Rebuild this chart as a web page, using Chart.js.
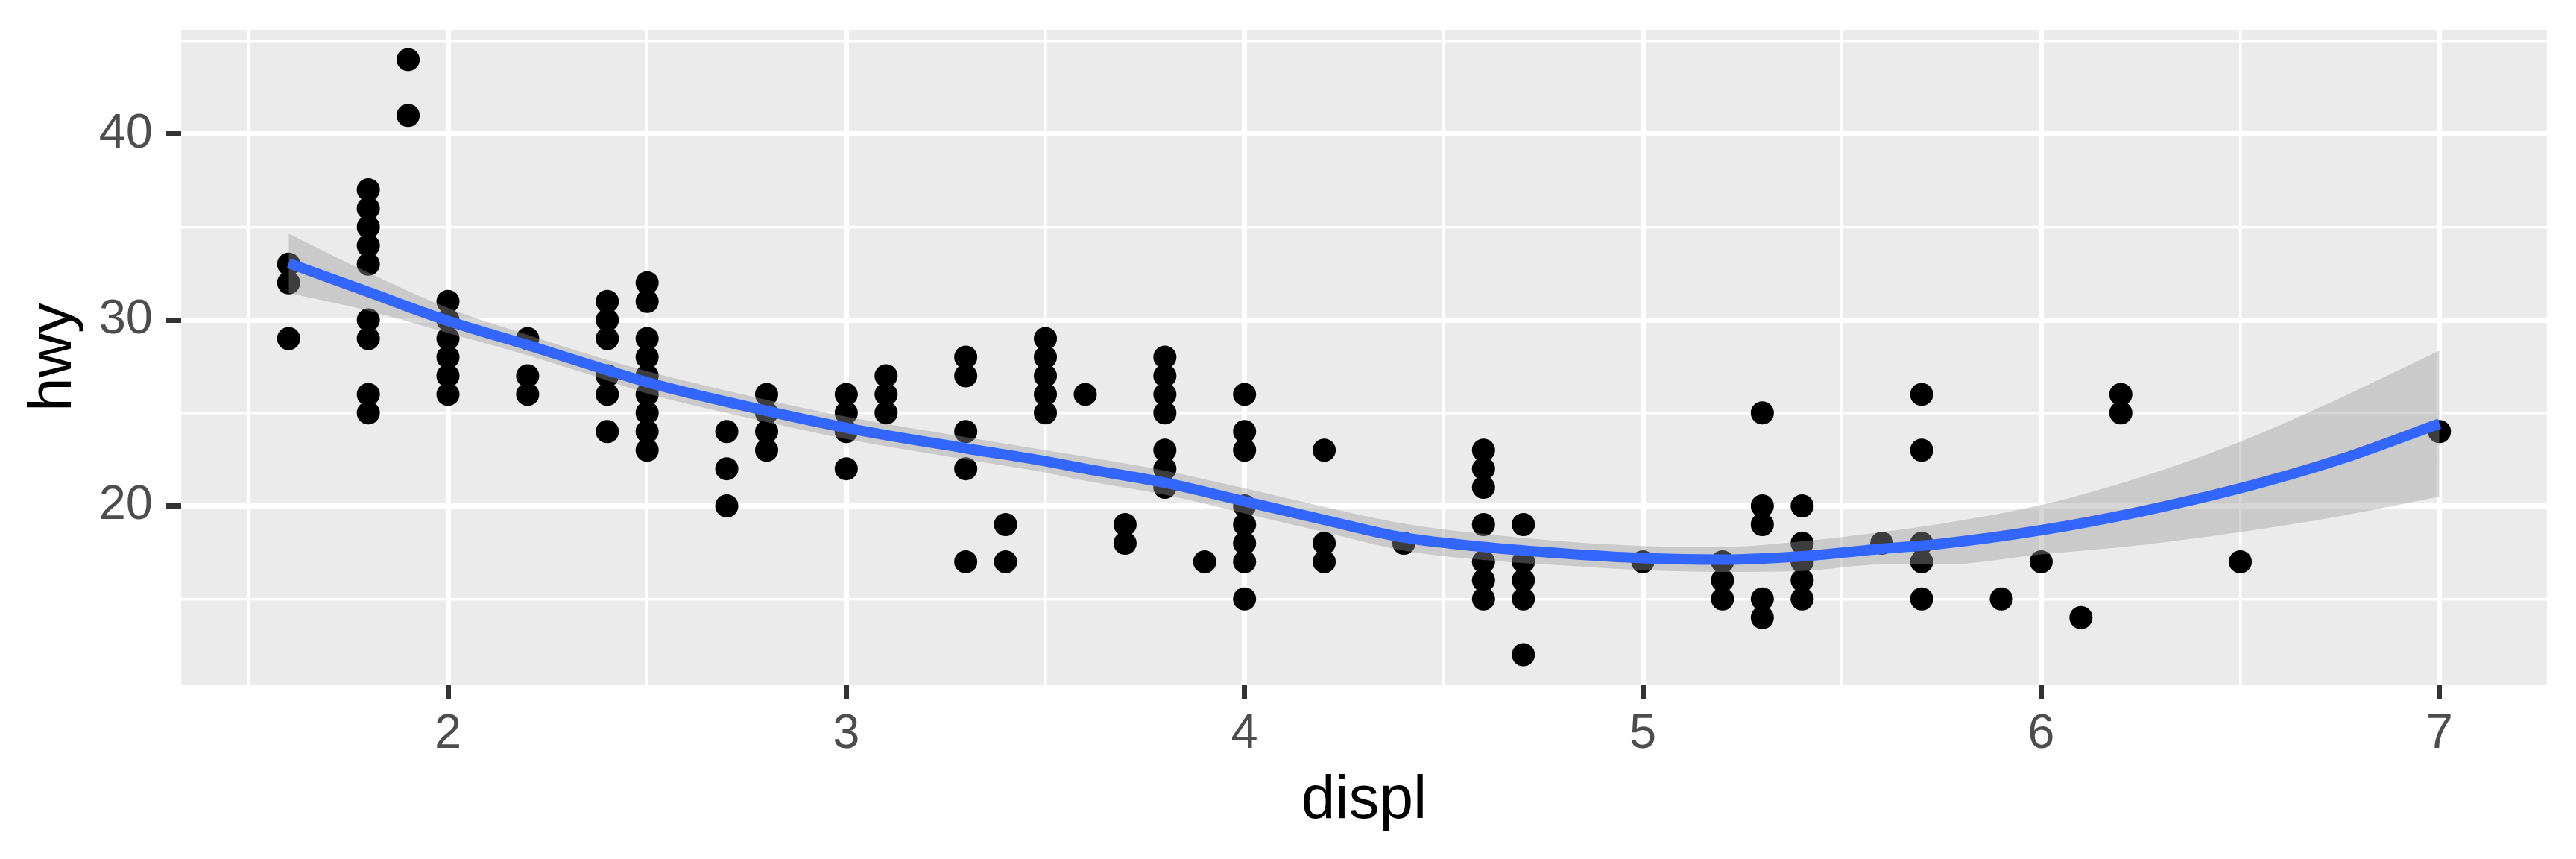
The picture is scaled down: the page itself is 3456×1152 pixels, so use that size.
<!DOCTYPE html>
<html>
<head>
<meta charset="utf-8">
<script src="https://cdn.jsdelivr.net/npm/chart.js@4"></script>
<style>
  body { margin: 0; background: #ffffff; }
  canvas { display: block; }
</style>
</head>
<body>
<canvas id="mpgChart" width="3456" height="1152"></canvas>
<script>
// Points: engine displacement vs highway mpg (one entry per visible dot)
const pointDispl = [
    1.6, 1.6, 1.6,
    1.8, 1.8, 1.8, 1.8, 1.8, 1.8, 1.8, 1.8, 1.8,
    1.9, 1.9,
    2.0, 2.0, 2.0, 2.0, 2.0, 2.0,
    2.2, 2.2, 2.2,
    2.4, 2.4, 2.4, 2.4, 2.4, 2.4,
    2.5, 2.5, 2.5, 2.5, 2.5, 2.5, 2.5, 2.5, 2.5,
    2.7, 2.7, 2.7,
    2.8, 2.8, 2.8, 2.8,
    3.0, 3.0, 3.0, 3.0,
    3.1, 3.1, 3.1,
    3.3, 3.3, 3.3, 3.3, 3.3,
    3.4, 3.4,
    3.5, 3.5, 3.5, 3.5, 3.5,
    3.6,
    3.7, 3.7,
    3.8, 3.8, 3.8, 3.8, 3.8, 3.8, 3.8,
    3.9,
    4.0, 4.0, 4.0, 4.0, 4.0, 4.0, 4.0, 4.0,
    4.2, 4.2, 4.2,
    4.4,
    4.6, 4.6, 4.6, 4.6, 4.6, 4.6, 4.6,
    4.7, 4.7, 4.7, 4.7, 4.7,
    5.0,
    5.2, 5.2, 5.2,
    5.3, 5.3, 5.3, 5.3, 5.3,
    5.4, 5.4, 5.4, 5.4, 5.4,
    5.6,
    5.7, 5.7, 5.7, 5.7, 5.7,
    5.9,
    6.0,
    6.1,
    6.2, 6.2,
    6.5,
    7.0
]
const pointHwy = [
    33, 32, 29,
    37, 36, 35, 34, 33, 30, 29, 26, 25,
    44, 41,
    31, 30, 29, 28, 27, 26,
    29, 27, 26,
    31, 30, 29, 27, 26, 24,
    32, 31, 29, 28, 27, 26, 25, 24, 23,
    24, 22, 20,
    26, 25, 24, 23,
    26, 25, 24, 22,
    27, 26, 25,
    28, 27, 24, 22, 17,
    19, 17,
    29, 28, 27, 26, 25,
    26,
    19, 18,
    28, 27, 26, 25, 23, 22, 21,
    17,
    26, 24, 23, 20, 19, 18, 17, 15,
    23, 18, 17,
    18,
    23, 22, 21, 19, 17, 16, 15,
    19, 17, 16, 15, 12,
    17,
    17, 16, 15,
    25, 20, 19, 15, 14,
    20, 18, 17, 16, 15,
    18,
    26, 23, 18, 17, 15,
    15,
    17,
    14,
    26, 25,
    17,
    24
]

// Loess smooth and its confidence band
const smoothX     = [1.6, 1.8, 2.0, 2.2, 2.4, 2.5, 2.7, 3.0, 3.3, 3.5, 3.6, 3.8, 4.0, 4.2, 4.4, 4.6, 4.8, 5.0, 5.2, 5.4, 5.6, 5.75, 6.0, 6.25, 6.5, 6.75, 7.0]
const smoothHwy   = [33.05, 31.5, 29.95, 28.65, 27.3, 26.65, 25.6, 24.2, 23.1, 22.4, 22.0, 21.25, 20.25, 19.25, 18.3, 17.8, 17.45, 17.2, 17.12, 17.3, 17.7, 17.97, 18.7, 19.7, 20.95, 22.5, 24.43]
const smoothUpper = [34.65, 32.55, 30.65, 29.2, 27.85, 27.25, 26.2, 24.8, 23.7, 23.0, 22.65, 21.9, 20.95, 19.95, 19.05, 18.5, 18.1, 17.85, 17.8, 18.1, 18.6, 19.05, 20.05, 21.55, 23.45, 25.8, 28.35]
const smoothLower = [31.45, 30.5, 29.3, 28.1, 26.75, 26.05, 25.0, 23.6, 22.5, 21.8, 21.35, 20.6, 19.6, 18.6, 17.6, 17.1, 16.8, 16.55, 16.45, 16.5, 16.85, 16.85, 17.4, 17.9, 18.6, 19.45, 20.5]

// Axis breaks (major ones get labels and tick marks)
const xBreaks = [1.5, 2, 2.5, 3, 3.5, 4, 4.5, 5, 5.5, 6, 6.5, 7]
const xMajor  = [2, 3, 4, 5, 6, 7]
const yBreaks = [15, 20, 25, 30, 35, 40, 45]
const yMajor  = [20, 30, 40]

const toXY = (xs, ys) => xs.map((x, i) => ({x: x, y: ys[i]}))

// grey panel behind the grid, like theme_gray
const panelBackground = {
    id: "panelBackground",
    beforeDraw(chart) {
        const {ctx, chartArea: a} = chart
        ctx.save()
        ctx.fillStyle = "#EBEBEB"
        ctx.fillRect(a.left, a.top, a.right - a.left, a.bottom - a.top)
        ctx.restore()
    }
}

const gridFor = major => ({
    color: "#FFFFFF",
    lineWidth: c => major.includes(c.tick.value) ? 7 : 3.5,
    tickColor: c => major.includes(c.tick.value) ? "#333333" : "rgba(0,0,0,0)",
    tickWidth: 7,
    tickLength: 20,
    drawTicks: true
})

// pin the axis boxes so the panel sits where it does in the original
const fixBox = (w, h) => s => {
    if (w) s.width = w
    if (h) s.height = h
    s.paddingTop = 0
    s.paddingBottom = 0
    s.paddingLeft = 0
    s.paddingRight = 0
}

new Chart(document.getElementById("mpgChart"), {
    type: "line",
    data: {
        datasets: [
            {
                data: toXY(smoothX, smoothHwy),
                borderColor: "#3366FF",
                borderWidth: 14,
                pointRadius: 0,
                fill: false,
                cubicInterpolationMode: "monotone",
                order: 0
            },
            {
                data: toXY(smoothX, smoothUpper),
                borderWidth: 0,
                borderColor: "rgba(0,0,0,0)",
                pointRadius: 0,
                fill: "+1",
                backgroundColor: "rgba(153,153,153,0.4)",
                cubicInterpolationMode: "monotone",
                order: 1
            },
            {
                data: toXY(smoothX, smoothLower),
                borderWidth: 0,
                borderColor: "rgba(0,0,0,0)",
                pointRadius: 0,
                fill: false,
                cubicInterpolationMode: "monotone",
                order: 1
            },
            {
                data: toXY(pointDispl, pointHwy),
                showLine: false,
                pointRadius: 15.5,
                pointBackgroundColor: "#000000",
                pointBorderWidth: 0,
                order: 2
            }
        ]
    },
    options: {
        responsive: false,
        animation: false,
        devicePixelRatio: 1,
        layout: { padding: { top: 40, right: 39, left: 0, bottom: 0 } },
        plugins: {
            legend: { display: false },
            tooltip: { enabled: false }
        },
        scales: {
            x: {
                type: "linear",
                min: 1.33,
                max: 7.27,
                afterBuildTicks: s => { s.ticks = xBreaks.map(v => ({value: v})) },
                afterFit: fixBox(0, 234),
                grid: gridFor(xMajor),
                border: { display: false },
                ticks: {
                    autoSkip: false,
                    maxRotation: 0,
                    padding: 8,
                    color: "#4D4D4D",
                    font: { family: "'Liberation Sans', Arial, sans-serif", size: 65 },
                    callback: v => xMajor.includes(v) ? String(v) : ""
                },
                title: {
                    display: true,
                    text: "displ",
                    color: "#000000",
                    padding: { top: 0, bottom: 28 },
                    font: { family: "'Liberation Sans', Arial, sans-serif", size: 82 }
                }
            },
            y: {
                type: "linear",
                min: 10.4,
                max: 45.6,
                afterBuildTicks: s => { s.ticks = yBreaks.map(v => ({value: v})) },
                afterFit: fixBox(243, 0),
                grid: gridFor(yMajor),
                border: { display: false },
                ticks: {
                    autoSkip: false,
                    padding: 18,
                    color: "#4D4D4D",
                    font: { family: "'Liberation Sans', Arial, sans-serif", size: 65 },
                    callback: v => yMajor.includes(v) ? String(v) : ""
                },
                title: {
                    display: true,
                    text: "hwy",
                    color: "#000000",
                    padding: { top: 23, bottom: 0 },
                    font: { family: "'Liberation Sans', Arial, sans-serif", size: 82 }
                }
            }
        }
    },
    plugins: [panelBackground]
})
</script>
</body>
</html>
